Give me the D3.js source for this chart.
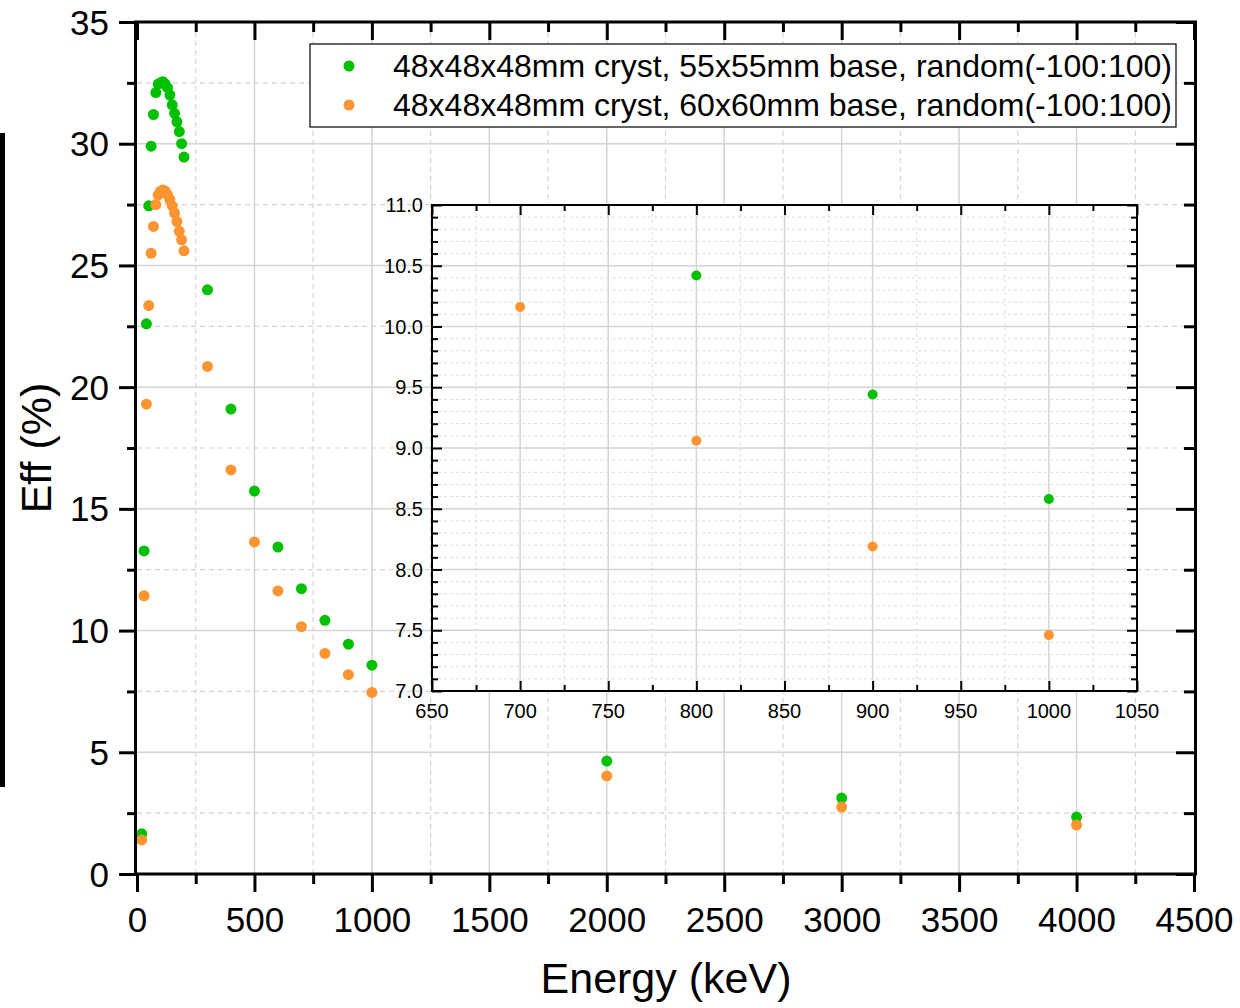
<!DOCTYPE html>
<html><head><meta charset="utf-8">
<script src="https://cdn.jsdelivr.net/npm/d3@7"></script>
<style>body{margin:0;background:#fff}svg{display:block;font-family:"Liberation Sans",Arial,sans-serif}</style>
</head><body><svg id="c" width="1240" height="1008"></svg>
<script>
const energies = [20,30,40,50,60,70,80,90,100,110,120,130,140,150,160,170,180,190,200,300,400,500,600,700,800,900,1000,2000,3000,4000];
const eff55 = [1.65,13.27,22.6,27.45,29.9,31.2,32.1,32.45,32.5,32.55,32.45,32.3,32.0,31.6,31.25,30.9,30.5,30.0,29.45,24.0,19.1,15.73,13.43,11.72,10.42,9.44,8.58,4.64,3.12,2.34];
const eff60 = [1.4,11.43,19.3,23.35,25.5,26.6,27.5,27.9,28.05,28.1,28.05,27.9,27.7,27.45,27.15,26.8,26.4,26.05,25.6,20.85,16.6,13.64,11.63,10.16,9.06,8.19,7.46,4.03,2.75,2.01];
const seriesNames = ["48x48x48mm cryst, 55x55mm base, random(-100:100)","48x48x48mm cryst, 60x60mm base, random(-100:100)"];
const colors = ["#00c000","#fd9432"];
const xTicks = [0,500,1000,1500,2000,2500,3000,3500,4000,4500];
const yTicks = [0,5,10,15,20,25,30,35];
const insetXTicks = [650,700,750,800,850,900,950,1000,1050];
const insetYTicks = [7.0,7.5,8.0,8.5,9.0,9.5,10.0,10.5,11.0];

const svg = d3.select("#c");
const x = d3.scaleLinear([0,4500],[137,1194]);
const y = d3.scaleLinear([0,35],[874,22]);
const GRID = "#d4d4d4";

// left black strip artifact
svg.append("rect").attr("x",0).attr("y",133).attr("width",5).attr("height",654).attr("fill","#000");

// main grid
const g = svg.append("g");
d3.range(250,4500,250).forEach(v=>{
  const major = v%500===0;
  g.append("line").attr("x1",x(v)).attr("x2",x(v)).attr("y1",y(0)).attr("y2",y(35))
   .attr("stroke",GRID).attr("stroke-width",major?1.5:1.2).attr("stroke-dasharray",major?null:"5,4");
});
d3.range(2.5,35,2.5).forEach(v=>{
  const major = v%5===0;
  g.append("line").attr("x1",x(0)).attr("x2",x(4500)).attr("y1",y(v)).attr("y2",y(v))
   .attr("stroke",GRID).attr("stroke-width",major?1.5:1.2).attr("stroke-dasharray",major?null:"5,4");
});

function drawMarks(sel, xs, ys, data, r){
  data.forEach((vals,si)=>{
    sel.append("g").selectAll("circle").data(energies.map((e,i)=>[e,vals[i]]))
      .join("circle").attr("cx",d=>xs(d[0])).attr("cy",d=>ys(d[1])).attr("r",r).attr("fill",colors[si]);
  });
}
drawMarks(svg, x, y, [eff55, eff60], 5.5);

// main axes
const axW = 3;
const axL = svg.append("g").attr("transform",`translate(${x(0)},0)`)
  .call(d3.axisLeft(y).tickValues(yTicks).tickSize(18).tickSizeOuter(0).tickFormat(d3.format("d")));
const axLm = svg.append("g").attr("transform",`translate(${x(0)},0)`)
  .call(d3.axisLeft(y).tickValues(d3.range(2.5,35,5)).tickSize(10).tickSizeOuter(0).tickFormat(""));
const axB = svg.append("g").attr("transform",`translate(0,${y(0)})`)
  .call(d3.axisBottom(x).tickValues(xTicks).tickSize(18).tickSizeOuter(0).tickFormat(d3.format("d")));
const axBm = svg.append("g").attr("transform",`translate(0,${y(0)})`)
  .call(d3.axisBottom(x).tickValues(d3.range(250,4500,500)).tickSize(10).tickSizeOuter(0).tickFormat(""));
const axT = svg.append("g").attr("transform",`translate(0,${y(35)})`)
  .call(d3.axisBottom(x).tickValues(xTicks).tickSize(18).tickSizeOuter(0).tickFormat(""));
const axTm = svg.append("g").attr("transform",`translate(0,${y(35)})`)
  .call(d3.axisBottom(x).tickValues(d3.range(250,4500,500)).tickSize(10).tickSizeOuter(0).tickFormat(""));
const axR = svg.append("g").attr("transform",`translate(${x(4500)},0)`)
  .call(d3.axisLeft(y).tickValues(yTicks).tickSize(18).tickSizeOuter(0).tickFormat(""));
const axRm = svg.append("g").attr("transform",`translate(${x(4500)},0)`)
  .call(d3.axisLeft(y).tickValues(d3.range(2.5,35,5)).tickSize(10).tickSizeOuter(0).tickFormat(""));
[axL,axLm,axB,axBm,axT,axTm,axR,axRm].forEach(a=>{
  a.select(".domain").remove();
  a.selectAll("line").attr("stroke","#000").attr("stroke-width",axW);
  a.selectAll("text").attr("font-size",35).attr("fill","#000").attr("font-family","Liberation Sans, Arial, sans-serif");
});
axL.selectAll("text").attr("x",-28).attr("dy",null).attr("y",12);
axB.selectAll("text").attr("dy",null).attr("y",58);
svg.append("rect").attr("x",x(0)-1.5).attr("y",y(35)).attr("width",x(4500)-x(0)+3).attr("height",y(0)-y(35))
  .attr("fill","none").attr("stroke","#000").attr("stroke-width",axW);

// axis titles
svg.append("text").attr("x",666).attr("y",993).attr("text-anchor","middle").attr("font-size",43).text("Energy (keV)");
svg.append("text").attr("transform","translate(51,448) rotate(-90)").attr("text-anchor","middle").attr("font-size",43).text("Eff (%)");

// legend
const lg = svg.append("g");
lg.append("rect").attr("x",310).attr("y",44).attr("width",866).attr("height",83).attr("fill","#fff").attr("stroke","#000").attr("stroke-width",1.2);
seriesNames.forEach((n,i)=>{
  const cy = 66 + i*39;
  lg.append("circle").attr("cx",349).attr("cy",cy).attr("r",5.5).attr("fill",colors[i]);
  lg.append("text").attr("x",393).attr("y",cy+11).attr("font-size",32).text(n);
});

// inset
const ix = d3.scaleLinear([650,1050],[432,1137]);
const iy = d3.scaleLinear([7,11],[691,205]);
const ig = svg.append("g");
ig.append("rect").attr("x",ix(650)).attr("y",iy(11)).attr("width",ix(1050)-ix(650)).attr("height",iy(7)-iy(11)).attr("fill","#fff");
d3.range(675,1050,25).forEach(v=>{
  const major = v%50===0;
  ig.append("line").attr("x1",ix(v)).attr("x2",ix(v)).attr("y1",iy(7)).attr("y2",iy(11))
    .attr("stroke",major?"#d4d4d4":"#dcdcdc").attr("stroke-width",major?1.5:1).attr("stroke-dasharray",major?null:"3,3");
});
d3.range(71,110,1).map(v=>v/10).forEach(v=>{
  const major = Math.abs(v*2-Math.round(v*2))<1e-6;
  ig.append("line").attr("x1",ix(650)).attr("x2",ix(1050)).attr("y1",iy(v)).attr("y2",iy(v))
    .attr("stroke",major?"#d4d4d4":"#dcdcdc").attr("stroke-width",major?1.5:1).attr("stroke-dasharray",major?null:"3,3");
});
const insetPts = ig.append("g");
[eff55, eff60].forEach((vals,si)=>{
  insetPts.append("g").selectAll("circle")
    .data(energies.map((e,i)=>[e,vals[i]]).filter(d=>d[0]>=650&&d[0]<=1050&&d[1]>=7&&d[1]<=11))
    .join("circle").attr("cx",d=>ix(d[0])).attr("cy",d=>iy(d[1])).attr("r",5).attr("fill",colors[si]);
});
const minorY = d3.range(71,110,1).map(v=>v/10).filter(v=>Math.abs(v*2-Math.round(v*2))>1e-6);
const iaxes = [];
iaxes.push(ig.append("g").attr("transform",`translate(0,${iy(7)})`)
  .call(d3.axisTop(ix).tickValues(insetXTicks).tickSize(10).tickSizeOuter(0).tickFormat("")));
iaxes.push(ig.append("g").attr("transform",`translate(0,${iy(7)})`)
  .call(d3.axisTop(ix).tickValues(d3.range(675,1050,50)).tickSize(6).tickSizeOuter(0).tickFormat("")));
iaxes.push(ig.append("g").attr("transform",`translate(0,${iy(11)})`)
  .call(d3.axisBottom(ix).tickValues(insetXTicks).tickSize(10).tickSizeOuter(0).tickFormat("")));
iaxes.push(ig.append("g").attr("transform",`translate(0,${iy(11)})`)
  .call(d3.axisBottom(ix).tickValues(d3.range(675,1050,50)).tickSize(6).tickSizeOuter(0).tickFormat("")));
iaxes.push(ig.append("g").attr("transform",`translate(${ix(650)},0)`)
  .call(d3.axisRight(iy).tickValues(insetYTicks).tickSize(10).tickSizeOuter(0).tickFormat("")));
iaxes.push(ig.append("g").attr("transform",`translate(${ix(650)},0)`)
  .call(d3.axisRight(iy).tickValues(minorY).tickSize(6).tickSizeOuter(0).tickFormat("")));
iaxes.push(ig.append("g").attr("transform",`translate(${ix(1050)},0)`)
  .call(d3.axisLeft(iy).tickValues(insetYTicks).tickSize(10).tickSizeOuter(0).tickFormat("")));
iaxes.push(ig.append("g").attr("transform",`translate(${ix(1050)},0)`)
  .call(d3.axisLeft(iy).tickValues(minorY).tickSize(6).tickSizeOuter(0).tickFormat("")));
iaxes.forEach(a=>{ a.select(".domain").remove(); a.selectAll("line").attr("stroke","#000").attr("stroke-width",2); });
ig.append("rect").attr("x",ix(650)).attr("y",iy(11)).attr("width",ix(1050)-ix(650)).attr("height",iy(7)-iy(11))
  .attr("fill","none").attr("stroke","#000").attr("stroke-width",2);
// inset labels
ig.append("g").selectAll("text").data(insetXTicks).join("text")
  .attr("x",d=>ix(d)).attr("y",iy(7)+27).attr("text-anchor","middle").attr("font-size",20).text(d=>d);
ig.append("g").selectAll("text").data(insetYTicks).join("text")
  .attr("x",ix(650)-9).attr("y",d=>iy(d)+7).attr("text-anchor","end").attr("font-size",20).text(d=>d.toFixed(1));
</script></body></html>
